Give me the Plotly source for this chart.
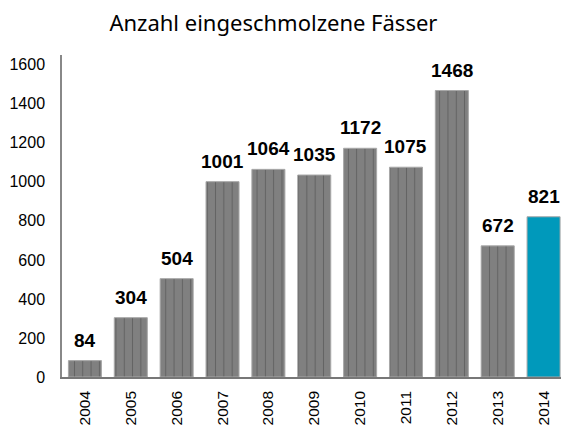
import plotly.graph_objects as go

years = ["2004", "2005", "2006", "2007", "2008", "2009", "2010", "2011", "2012", "2013", "2014"]
values = [84, 304, 504, 1001, 1064, 1035, 1172, 1075, 1468, 672, 821]
bar_colors = ["#808080"] * 10 + ["#0099BB"]
pattern_shapes = ["|"] * 10 + [""]
y_ticks = [0, 200, 400, 600, 800, 1000, 1200, 1400, 1600]
title_text = "Anzahl eingeschmolzene Fässer"

fig = go.Figure()
fig.add_trace(go.Bar(
    x=list(range(len(years))), y=values,
    width=0.72,
    marker=dict(
        color=bar_colors,
        line=dict(color="#a8a8a8", width=1),
        pattern=dict(shape=pattern_shapes, size=8.3, solidity=0.12,
                     fgcolor="#a0a0a0", fillmode="overlay"),
    ),
    hoverinfo="skip",
    cliponaxis=False,
))

for i, v in enumerate(values):
    fig.add_annotation(x=i, y=v, text=str(v), showarrow=False,
                       yanchor="bottom", yshift=8,
                       font=dict(family="Liberation Sans", size=19, color="#000000",
                                 weight="bold"))

fig.update_layout(
    width=553, height=417,
    margin=dict(l=54, r=0, t=47, b=48),
    paper_bgcolor="white", plot_bgcolor="white",
    showlegend=False,
    title=dict(text=title_text, x=0.48, xanchor="center", y=0.963, yanchor="middle",
               font=dict(family="Noto Sans", size=22, color="#000000")),
)
fig.update_xaxes(
    range=[-0.5, 10.38], automargin=False,
    tickmode="array", tickvals=list(range(len(years))), ticktext=years,
    tickangle=-90, showline=True, linecolor="#777777", linewidth=1.5,
    ticks="", showgrid=False, zeroline=False,
    tickfont=dict(family="Liberation Sans", size=15.5, color="#000000"),
    ticklabelstandoff=6,
)
fig.update_yaxes(
    range=[0, 1650], tickvals=y_ticks, automargin=False,
    showline=True, linecolor="#888888", linewidth=1.5,
    ticks="", showgrid=False, zeroline=False,
    tickfont=dict(family="Liberation Sans", size=16, color="#000000"),
    ticklabelstandoff=12,
)

fig.write_html("out.html")
